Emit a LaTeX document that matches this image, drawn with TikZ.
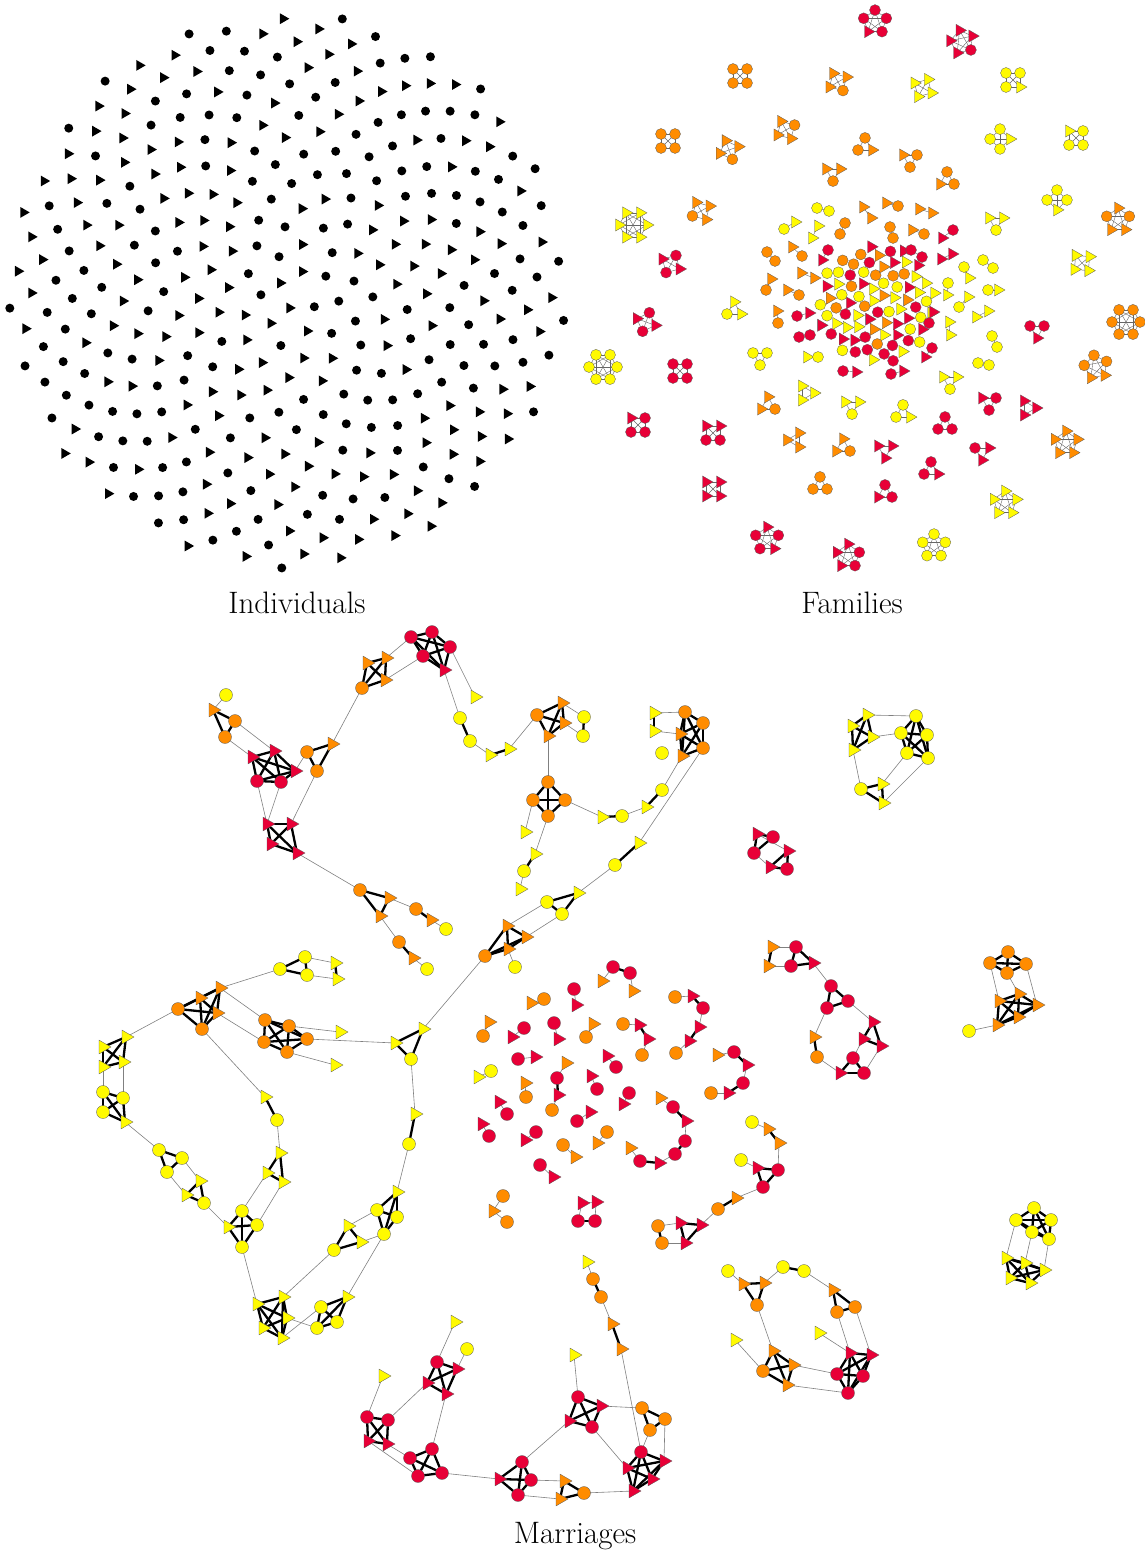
\documentclass[tikz,border=0pt]{standalone}
\usepackage{fontspec}
\usepackage{tikz}
\usetikzlibrary{shapes.geometric, calc}
\definecolor{kr}{RGB}{232, 0, 55}
\definecolor{ko}{RGB}{255, 140, 0}
\definecolor{ky}{RGB}{255, 250, 0}
\pgfdeclarelayer{bg}
\pgfsetlayers{bg,main}

\newcommand\clique[1]{%
  \foreach \cu [count=\i] in {#1}{\foreach \cv [count=\j] in {#1}{%
    \ifnum\j>\i \draw[tie] (\cu.center) -- (\cv.center);\fi}}}

\newcommand\famgrp[5]{%
  \foreach \s [count=\k] in {#4} {\xdef\famn{\k}}
  \pgfmathsetmacro\famr{7/sin(180/\famn)}
  \foreach \s [count=\k] in {#4} {
    \pgfmathsetmacro\ang{#5+360*\k/\famn}
    \def\famc{c}
    \ifx\s\famc \node[fcirc=#3] (fn\k) at ($(#1,#2)+(\ang:\famr pt)$) {};
    \else \node[ftri=#3] (fn\k) at ($(#1,#2)+(\ang:\famr pt)$) {};\fi
  }
  \begin{pgfonlayer}{bg}
    \foreach \i in {1,...,\famn}{\foreach \j in {1,...,\famn}{%
      \ifnum\j>\i \draw[fline] (fn\i.center) -- (fn\j.center);\fi}}
  \end{pgfonlayer}
}

\newcommand\famduo[7]{%
  \def\famc{c}\def\sa{#2}\def\sb{#5}
  \ifx\sa\famc \node[fcirc=#1] (fd1) at (#3,#4) {};\else \node[ftri=#1] (fd1) at (#3,#4) {};\fi
  \ifx\sb\famc \node[fcirc=#1] (fd2) at (#6,#7) {};\else \node[ftri=#1] (fd2) at (#6,#7) {};\fi
  \begin{pgfonlayer}{bg}\draw[fline] (fd1.center) -- (fd2.center);\end{pgfonlayer}
}

\begin{document}
\begin{tikzpicture}[x=1pt, y=-1pt,
    icirc/.style={circle, fill=black, minimum size=9pt, inner sep=0pt},
    itri/.style={regular polygon, regular polygon sides=3, shape border rotate=-90,
      fill=black, minimum size=12.5pt, inner sep=0pt},
    fcirc/.style={circle, draw=gray!70!black, line width=0.3pt, fill=#1, minimum size=11pt, inner sep=0pt},
    ftri/.style={regular polygon, regular polygon sides=3, shape border rotate=-90,
      draw=gray!70!black, line width=0.3pt, fill=#1, minimum size=14pt, inner sep=0pt},
    mcirc/.style={circle, draw=gray!70!black, line width=0.3pt, fill=#1, minimum size=13pt, inner sep=0pt},
    mtri/.style={regular polygon, regular polygon sides=3, shape border rotate=-90,
      draw=gray!70!black, line width=0.3pt, fill=#1, minimum size=16pt, inner sep=0pt},
    tie/.style={line width=2.3pt, black},
    link/.style={line width=0.6pt, gray},
    fline/.style={line width=0.4pt, gray!80!black},
    caption/.style={font=\fontsize{31}{36}\selectfont}]

\useasboundingbox (0,0) rectangle (1144,1558);

\pgfmathsetseed{11}
\foreach \i in {1,...,360}{
  \pgfmathsetmacro\rr{279*sqrt((\i-0.5)/360)}
  \pgfmathsetmacro\aa{360*(\i*0.381966-floor(\i*0.381966))}
  \pgfmathrandominteger{\sh}{0}{1}
  \ifnum\sh=0 \node[icirc] (ind\i) at ($(288,290)+(\aa:\rr pt)$) {};
  \else \node[itri] (ind\i) at ($(288,290)+(\aa:\rr pt)$) {};\fi
}
\node[caption] (indname) at (297,603) {Individuals};

\pgfmathdeclarerandomlist{famcol}{{kr}{ko}{ky}}
\foreach \i in {1,...,80}{
  \pgfmathsetmacro\rr{60*sqrt((\i-0.5)/80)}
  \pgfmathsetmacro\aa{360*(\i*0.381966-floor(\i*0.381966))}
  \pgfmathrandomitem{\col}{famcol}
  \pgfmathrandominteger{\sh}{0}{1}
  \ifnum\sh=0 \node[fcirc=\col] (core\i) at ($(877,304)+(\aa:\rr pt)$) {};
  \else \node[ftri=\col] (core\i) at ($(877,304)+(\aa:\rr pt)$) {};\fi
}

\famduo{ky}{c}{817}{208}{c}{829}{211}
\famduo{ko}{t}{863}{207}{t}{871}{218}
\famduo{ko}{t}{886}{203}{c}{898}{206}
\famduo{ko}{t}{919}{209}{t}{932}{213}
\famduo{ky}{c}{784}{229}{t}{795}{222}
\famduo{ky}{t}{818}{226}{t}{812}{238}
\famduo{ko}{c}{845}{223}{c}{840}{234}
\famduo{ko}{c}{890}{227}{c}{893}{238}
\famduo{ko}{t}{912}{230}{c}{924}{234}
\famduo{kr}{t}{942}{238}{c}{953}{230}
\famduo{kr}{c}{828}{250}{t}{822}{260}
\famduo{ko}{t}{792}{247}{c}{802}{256}
\famduo{kr}{c}{911}{250}{c}{922}{257}
\famduo{kr}{t}{941}{259}{t}{952}{254}
\famduo{ko}{c}{767}{252}{c}{775}{261}
\famduo{ky}{c}{983}{260}{c}{993}{268}
\famduo{ky}{c}{964}{267}{t}{969}{278}
\famduo{ko}{t}{801}{273}{t}{814}{278}
\famduo{ko}{t}{771}{279}{c}{766}{290}
\famduo{ko}{t}{787}{290}{c}{799}{295}
\famduo{ky}{c}{948}{283}{t}{947}{295}
\famduo{ky}{c}{988}{290}{t}{998}{290}
\famduo{ky}{t}{968}{297}{c}{959}{307}
\famduo{ko}{t}{777}{311}{c}{778}{323}
\famduo{kr}{c}{797}{316}{t}{809}{313}
\famduo{ky}{t}{976}{317}{t}{988}{311}
\famduo{kr}{t}{933}{312}{c}{929}{323}
\famduo{kr}{c}{799}{337}{c}{810}{335}
\famduo{ky}{t}{949}{322}{t}{950}{335}
\famduo{ky}{c}{992}{336}{c}{997}{347}
\famduo{ky}{t}{807}{357}{c}{818}{357}
\famduo{kr}{c}{843}{371}{t}{856}{372}
\famduo{kr}{c}{891}{374}{t}{903}{371}
\famduo{kr}{t}{925}{357}{c}{932}{348}
\famduo{ky}{c}{978}{363}{c}{989}{365}

\famgrp{875}{22}{kr}{c,c,t,c,c}{18}
\famgrp{962}{42}{kr}{t,t,t,c,t}{30}
\famgrp{740}{76}{ko}{c,c,c,c}{45}
\famgrp{838}{82}{ko}{t,t,c,t}{30}
\famgrp{923}{88}{ky}{t,t,t,t}{60}
\famgrp{1013}{80}{ky}{c,c,t,c}{45}
\famgrp{668}{141}{ko}{c,c,c,c}{45}
\famgrp{729}{150}{ko}{t,t,c,t}{20}
\famgrp{786}{130}{ko}{t,t,t,c}{30}
\famgrp{865}{146}{ko}{c,t,c}{90}
\famgrp{910}{159}{ko}{c,c,t}{150}
\famgrp{1000}{139}{ky}{c,c,c,t}{0}
\famgrp{1076}{138}{ky}{t,c,c,c}{45}
\famgrp{833}{173}{ko}{t,c,t}{30}
\famgrp{947}{180}{ko}{t,c,c}{90}
\famgrp{1057}{200}{ky}{c,c,t,c}{0}
\famgrp{633}{225}{ky}{t,t,t,t,t,t}{0}
\famgrp{701}{211}{ko}{t,c,t,t}{30}
\famgrp{1118}{220}{ko}{c,t,t,c,t}{90}
\famgrp{996}{222}{ky}{t,c,t}{30}
\famgrp{671}{264}{kr}{t,c,t,c}{60}
\famgrp{1082}{263}{ky}{t,t,t,t}{40}
\famgrp{646}{322}{kr}{t,c,t,c}{70}
\famgrp{603}{367}{ky}{c,c,c,c,c,c}{0}
\famgrp{680}{371}{kr}{c,c,c,c}{45}
\famgrp{734}{310}{ky}{c,t,t}{90}
\famgrp{760}{357}{ky}{c,c,c}{30}
\famgrp{1037}{330}{kr}{t,c,c}{150}
\famgrp{1126}{322}{ko}{c,c,c,c,c,c}{0}
\famgrp{1096}{367}{ko}{c,t,t,c,c}{100}
\famgrp{768}{405}{ko}{t,c,t}{90}
\famgrp{806}{393}{ky}{t,t,t}{0}
\famgrp{638}{425}{kr}{t,c,c,c}{45}
\famgrp{713}{433}{kr}{t,c,c,t}{45}
\famgrp{852}{406}{ky}{c,t,t}{150}
\famgrp{903}{413}{ky}{c,t,c}{90}
\famgrp{950}{381}{ky}{t,c,t}{30}
\famgrp{989}{402}{kr}{c,c,t}{150}
\famgrp{1028}{408}{kr}{t,t,t}{0}
\famgrp{945}{425}{kr}{c,c,c}{90}
\famgrp{795}{440}{ko}{t,t,t}{60}
\famgrp{843}{447}{ko}{t,c,t}{90}
\famgrp{885}{450}{kr}{t,t,t}{30}
\famgrp{931}{470}{kr}{c,t,c}{90}
\famgrp{982}{452}{kr}{t,t,c}{150}
\famgrp{1066}{443}{ko}{t,t,t,t,t}{90}
\famgrp{713}{489}{kr}{t,t,t,t}{45}
\famgrp{820}{485}{ko}{c,c,c}{90}
\famgrp{885}{493}{kr}{t,c,c}{90}
\famgrp{1005}{503}{ky}{t,t,t,t,t}{90}
\famgrp{767}{539}{kr}{c,c,t,c,t}{90}
\famgrp{848}{556}{kr}{t,t,c,c,t}{90}
\famgrp{934}{546}{ky}{c,c,c,c,c}{90}
\node[caption] (famname) at (852,603) {Families};

\node[mcirc=ky] (a1) at (226,695) {};
\node[mtri=ko] (a2) at (213,710) {};
\node[mcirc=ko] (a3) at (235,721) {};
\node[mcirc=ko] (a4) at (225,737) {};
\node[mtri=kr] (b1) at (252,757) {};
\node[mtri=kr] (b2) at (274,751) {};
\node[mtri=kr] (b3) at (295,771) {};
\node[mcirc=kr] (b4) at (257,781) {};
\node[mcirc=kr] (b5) at (281,782) {};
\node[mcirc=ko] (c1) at (307,752) {};
\node[mtri=ko] (c2) at (332,744) {};
\node[mcirc=ko] (c3) at (317,771) {};
\node[mtri=kr] (d1) at (267,824) {};
\node[mtri=kr] (d2) at (291,824) {};
\node[mtri=kr] (d3) at (271,844) {};
\node[mtri=kr] (d4) at (297,853) {};
\node[mtri=ko] (e1) at (367,663) {};
\node[mtri=ko] (e2) at (386,658) {};
\node[mtri=ko] (e3) at (385,680) {};
\node[mcirc=ko] (e4) at (362,688) {};
\node[mcirc=kr] (f1) at (411,637) {};
\node[mcirc=kr] (f2) at (432,632) {};
\node[mcirc=kr] (f3) at (450,647) {};
\node[mcirc=kr] (f4) at (423,656) {};
\node[mtri=kr] (f5) at (444,670) {};
\node[mtri=ky] (h1) at (475,697) {};
\node[mcirc=ky] (h2) at (460,718) {};
\node[mcirc=ky] (h3) at (470,741) {};
\node[mtri=ky] (h4) at (490,755) {};
\node[mtri=ky] (h5) at (509,749) {};
\node[mcirc=ko] (i1) at (537,715) {};
\node[mtri=ko] (i2) at (562,703) {};
\node[mtri=ko] (i3) at (564,723) {};
\node[mtri=ko] (i4) at (548,736) {};
\node[mcirc=ky] (j1) at (584,717) {};
\node[mcirc=ky] (j2) at (583,736) {};
\node[mcirc=ko] (k1) at (548,782) {};
\node[mcirc=ko] (k2) at (533,800) {};
\node[mcirc=ko] (k3) at (565,800) {};
\node[mcirc=ko] (k4) at (548,816) {};
\node[mtri=ky] (l1) at (525,832) {};
\node[mtri=ky] (l2) at (535,854) {};
\node[mcirc=ky] (l3) at (524,871) {};
\node[mtri=ky] (l4) at (520,889) {};
\node[mtri=ky] (n1) at (602,817) {};
\node[mcirc=ky] (n2) at (622,816) {};
\node[mtri=ky] (n3) at (646,807) {};
\node[mcirc=ky] (n4) at (662,790) {};
\node[mcirc=ko] (o1) at (685,712) {};
\node[mcirc=ko] (o2) at (703,723) {};
\node[mcirc=ko] (o3) at (703,748) {};
\node[mtri=ko] (o4) at (680,734) {};
\node[mtri=ko] (o5) at (682,756) {};
\node[mtri=ky] (o6) at (654,713) {};
\node[mtri=ky] (o7) at (654,731) {};
\node[mcirc=ky] (o8) at (662,753) {};
\node[mtri=ky] (p1) at (639,843) {};
\node[mcirc=ky] (p2) at (615,865) {};
\node[mcirc=ky] (q1) at (547,902) {};
\node[mtri=ky] (q2) at (578,893) {};
\node[mcirc=ky] (q3) at (562,914) {};
\node[mtri=ko] (s1) at (507,926) {};
\node[mtri=ko] (s2) at (526,937) {};
\node[mtri=ko] (s3) at (508,949) {};
\node[mcirc=ko] (s4) at (485,956) {};
\node[mcirc=ky] (s5) at (515,967) {};
\node[mcirc=ko] (g1) at (360,890) {};
\node[mtri=ko] (g2) at (389,898) {};
\node[mtri=ko] (g3) at (380,916) {};
\node[mcirc=ko] (g4) at (416,909) {};
\node[mtri=ko] (g5) at (431,920) {};
\node[mcirc=ky] (g6) at (446,929) {};
\node[mcirc=ko] (g7) at (399,942) {};
\node[mtri=ko] (g8) at (413,958) {};
\node[mcirc=ky] (g9) at (427,969) {};
\node[mcirc=ky] (t1) at (280,969) {};
\node[mcirc=ky] (t2) at (305,957) {};
\node[mcirc=ky] (t3) at (307,975) {};
\node[mtri=ky] (t4) at (335,963) {};
\node[mtri=ky] (t5) at (337,979) {};
\node[mcirc=ko] (u1) at (178,1009) {};
\node[mtri=ko] (u2) at (200,998) {};
\node[mtri=ko] (u3) at (220,988) {};
\node[mtri=ko] (u4) at (217,1013) {};
\node[mcirc=ko] (u5) at (202,1029) {};
\node[mcirc=ko] (v1) at (265,1020) {};
\node[mcirc=ko] (v2) at (289,1026) {};
\node[mcirc=ko] (v3) at (264,1042) {};
\node[mcirc=ko] (v4) at (287,1052) {};
\node[mcirc=ko] (v5) at (307,1039) {};
\node[mtri=ky] (v6) at (340,1032) {};
\node[mtri=ky] (v7) at (335,1065) {};
\node[mtri=ky] (w1) at (395,1043) {};
\node[mtri=ky] (w2) at (423,1029) {};
\node[mcirc=ky] (w3) at (411,1059) {};
\node[mtri=ky] (w4) at (415,1114) {};
\node[mcirc=ky] (w5) at (409,1144) {};
\node[mtri=ky] (x1) at (103,1047) {};
\node[mtri=ky] (x2) at (126,1037) {};
\node[mtri=ky] (x3) at (103,1067) {};
\node[mtri=ky] (x4) at (123,1062) {};
\node[mcirc=ky] (x5) at (103,1092) {};
\node[mcirc=ky] (x6) at (123,1098) {};
\node[mcirc=ky] (x7) at (103,1112) {};
\node[mtri=ky] (x8) at (125,1122) {};
\node[mcirc=ky] (xa) at (159,1150) {};
\node[mcirc=ky] (xb) at (182,1158) {};
\node[mcirc=ky] (xc) at (167,1172) {};
\node[mtri=ky] (xd) at (200,1181) {};
\node[mtri=ky] (xe) at (186,1195) {};
\node[mcirc=ky] (xf) at (204,1203) {};
\node[mtri=ky] (y1) at (265,1097) {};
\node[mcirc=ky] (y2) at (277,1120) {};
\node[mtri=ky] (y3) at (280,1153) {};
\node[mtri=ky] (y4) at (267,1173) {};
\node[mtri=ky] (y5) at (283,1182) {};
\node[mtri=ky] (ya) at (228,1227) {};
\node[mcirc=ky] (yb) at (242,1211) {};
\node[mcirc=ky] (yc) at (257,1225) {};
\node[mcirc=ky] (yd) at (242,1247) {};
\node[mtri=ky] (z1) at (397,1192) {};
\node[mcirc=ky] (z2) at (377,1210) {};
\node[mcirc=ky] (z3) at (397,1217) {};
\node[mcirc=ky] (z4) at (384,1234) {};
\node[mtri=ky] (z5) at (348,1226) {};
\node[mtri=ky] (z6) at (361,1242) {};
\node[mcirc=ky] (z7) at (334,1250) {};
\node[mtri=ky] (za) at (257,1304) {};
\node[mtri=ky] (zb) at (283,1297) {};
\node[mtri=ky] (zc) at (287,1318) {};
\node[mtri=ky] (zd) at (263,1328) {};
\node[mtri=ky] (ze) at (282,1338) {};
\node[mtri=ky] (zf) at (347,1297) {};
\node[mcirc=ky] (zg) at (321,1307) {};
\node[mcirc=ky] (zh) at (337,1322) {};
\node[mcirc=ky] (zi) at (317,1328) {};
\node[mtri=ky] (ra) at (383,1376) {};
\node[mcirc=kr] (rb) at (367,1417) {};
\node[mcirc=kr] (rc) at (388,1420) {};
\node[mtri=kr] (rd) at (368,1441) {};
\node[mtri=kr] (re) at (387,1444) {};
\node[mcirc=kr] (sa) at (437,1362) {};
\node[mtri=kr] (sb) at (457,1369) {};
\node[mtri=kr] (sc) at (427,1383) {};
\node[mtri=kr] (sd) at (446,1394) {};
\node[mtri=ky] (se) at (455,1322) {};
\node[mcirc=ky] (sf) at (467,1349) {};
\node[mcirc=kr] (ta) at (410,1458) {};
\node[mcirc=kr] (tb) at (432,1449) {};
\node[mcirc=kr] (tc) at (418,1476) {};
\node[mcirc=kr] (td) at (442,1473) {};
\node[mtri=kr] (ua) at (499,1479) {};
\node[mcirc=kr] (ub) at (522,1462) {};
\node[mcirc=kr] (uc) at (531,1480) {};
\node[mcirc=kr] (ud) at (518,1495) {};
\node[mtri=ko] (wa) at (564,1481) {};
\node[mtri=ko] (wb) at (560,1499) {};
\node[mcirc=ko] (wc) at (584,1493) {};
\node[mcirc=kr] (va) at (578,1397) {};
\node[mtri=kr] (vb) at (601,1406) {};
\node[mtri=kr] (vc) at (569,1421) {};
\node[mcirc=kr] (vd) at (592,1427) {};
\node[mtri=ky] (ve) at (574,1355) {};
\node[mcirc=ko] (pa) at (642,1408) {};
\node[mcirc=ko] (pb) at (665,1419) {};
\node[mcirc=ko] (pc) at (650,1430) {};
\node[mcirc=kr] (qa) at (641,1452) {};
\node[mtri=kr] (qb) at (627,1468) {};
\node[mtri=kr] (qc) at (664,1461) {};
\node[mtri=kr] (qd) at (652,1479) {};
\node[mtri=kr] (qe) at (633,1491) {};
\node[mtri=ky] (ka) at (587,1262) {};
\node[mcirc=ko] (kb) at (593,1279) {};
\node[mcirc=ko] (kc) at (601,1297) {};
\node[mtri=ko] (kd) at (612,1324) {};
\node[mtri=ko] (ke) at (621,1349) {};
\node[mtri=ko] (sp1) at (660,1098) {};
\node[mcirc=kr] (sp2) at (673,1107) {};
\node[mtri=kr] (sp3) at (686,1121) {};
\node[mcirc=kr] (sp4) at (685,1141) {};
\node[mcirc=kr] (sp5) at (675,1154) {};
\node[mtri=kr] (sp6) at (659,1163) {};
\node[mcirc=kr] (sp7) at (640,1161) {};
\node[mtri=ko] (sp8) at (630,1148) {};
\node[mcirc=ky] (la) at (752,1122) {};
\node[mtri=ko] (lb) at (768,1129) {};
\node[mtri=ko] (lc) at (779,1143) {};
\node[mcirc=kr] (ld) at (778,1170) {};
\node[mtri=kr] (le) at (757,1168) {};
\node[mcirc=ky] (lf) at (741,1160) {};
\node[mcirc=kr] (lg) at (763,1187) {};
\node[mtri=ko] (lh) at (736,1198) {};
\node[mcirc=ko] (li) at (718,1209) {};
\node[mcirc=ko] (lj) at (658,1226) {};
\node[mcirc=ko] (lk) at (662,1243) {};
\node[mtri=kr] (ll) at (680,1223) {};
\node[mtri=kr] (lm) at (701,1225) {};
\node[mtri=kr] (ln) at (685,1243) {};
\node[mcirc=ky] (na) at (728,1271) {};
\node[mtri=ko] (nb) at (743,1284) {};
\node[mtri=ko] (nc) at (764,1283) {};
\node[mcirc=ko] (nd) at (757,1305) {};
\node[mcirc=ky] (ne) at (783,1267) {};
\node[mcirc=ky] (nf) at (804,1271) {};
\node[mtri=ko] (ng) at (833,1290) {};
\node[mcirc=ko] (nh) at (837,1312) {};
\node[mcirc=ko] (ni) at (855,1307) {};
\node[mtri=ky] (nj) at (735,1340) {};
\node[mtri=ky] (nk) at (819,1333) {};
\node[mtri=ko] (oa) at (773,1351) {};
\node[mcirc=ko] (ob) at (763,1371) {};
\node[mtri=ko] (oc) at (793,1365) {};
\node[mtri=ko] (od) at (787,1385) {};
\node[mtri=kr] (ha) at (850,1353) {};
\node[mtri=kr] (hb) at (871,1355) {};
\node[mcirc=kr] (hc) at (837,1374) {};
\node[mcirc=kr] (hd) at (863,1376) {};
\node[mcirc=kr] (he) at (848,1393) {};
\node[mtri=ky] (ga) at (867,715) {};
\node[mtri=ky] (gb) at (852,726) {};
\node[mtri=ky] (gc) at (872,737) {};
\node[mtri=ky] (gd) at (853,750) {};
\node[mcirc=ky] (ge) at (916,716) {};
\node[mcirc=ky] (gf) at (901,733) {};
\node[mcirc=ky] (gg) at (927,735) {};
\node[mcirc=ky] (gh) at (907,753) {};
\node[mcirc=ky] (gi) at (928,758) {};
\node[mcirc=ky] (gj) at (861,789) {};
\node[mtri=ky] (gk) at (882,784) {};
\node[mtri=ky] (gl) at (883,803) {};
\node[mtri=kr] (ea) at (757,834) {};
\node[mcirc=kr] (eb) at (773,837) {};
\node[mcirc=kr] (ec) at (754,853) {};
\node[mtri=kr] (ed) at (788,851) {};
\node[mtri=kr] (ee) at (770,867) {};
\node[mcirc=kr] (ef) at (787,869) {};
\node[mtri=ko] (ca) at (772,947) {};
\node[mtri=ko] (cb) at (768,966) {};
\node[mcirc=kr] (cc) at (796,947) {};
\node[mcirc=kr] (cd) at (791,966) {};
\node[mtri=kr] (ce) at (813,963) {};
\node[mcirc=kr] (cf) at (831,986) {};
\node[mcirc=kr] (cg) at (848,1001) {};
\node[mcirc=kr] (ch) at (827,1008) {};
\node[mtri=kr] (ci) at (873,1022) {};
\node[mtri=kr] (cj) at (863,1039) {};
\node[mtri=kr] (ck) at (881,1046) {};
\node[mtri=ko] (cl) at (814,1037) {};
\node[mcirc=ko] (cm) at (817,1057) {};
\node[mcirc=kr] (cn) at (853,1058) {};
\node[mtri=kr] (cp) at (840,1073) {};
\node[mcirc=kr] (co) at (864,1073) {};
\node[mcirc=ko] (da) at (1008,952) {};
\node[mcirc=ko] (db) at (990,963) {};
\node[mcirc=ko] (dc) at (1026,964) {};
\node[mcirc=ko] (dd) at (1007,973) {};
\node[mtri=ko] (de) at (999,1001) {};
\node[mtri=ko] (df) at (1019,994) {};
\node[mtri=ko] (dg) at (1037,1005) {};
\node[mtri=ko] (dh) at (1018,1017) {};
\node[mtri=ko] (di) at (997,1025) {};
\node[mcirc=ky] (dj) at (969,1031) {};
\node[mcirc=ky] (ja) at (1034,1208) {};
\node[mcirc=ky] (jb) at (1016,1220) {};
\node[mcirc=ky] (jc) at (1051,1220) {};
\node[mcirc=ky] (jd) at (1032,1232) {};
\node[mcirc=ky] (je) at (1049,1239) {};
\node[mtri=ky] (jf) at (1006,1258) {};
\node[mtri=ky] (jg) at (1025,1263) {};
\node[mtri=ky] (jh) at (1044,1270) {};
\node[mtri=ky] (ji) at (1010,1278) {};
\node[mtri=ky] (jj) at (1030,1283) {};
\node[mtri=ko] (ba1) at (602,981) {};
\node[mcirc=kr] (ba2) at (613,967) {};
\node[mcirc=kr] (ba3) at (630,973) {};
\node[mtri=ko] (ba4) at (633,991) {};
\node[mtri=ko] (bb1) at (531,1003) {};
\node[mcirc=ko] (bb2) at (544,999) {};
\node[mcirc=kr] (bc1) at (574,989) {};
\node[mtri=kr] (bc2) at (576,1005) {};
\node[mcirc=ko] (bd1) at (675,997) {};
\node[mtri=kr] (bd2) at (692,996) {};
\node[mcirc=kr] (bd3) at (703,1008) {};
\node[mtri=kr] (bd4) at (699,1027) {};
\node[mtri=kr] (bd5) at (689,1041) {};
\node[mcirc=ko] (bd6) at (676,1053) {};
\node[mtri=ko] (be1) at (489,1022) {};
\node[mcirc=ko] (be2) at (483,1036) {};
\node[mcirc=kr] (bf1) at (524,1028) {};
\node[mtri=kr] (bf2) at (512,1037) {};
\node[mcirc=kr] (bg1) at (554,1023) {};
\node[mtri=kr] (bg2) at (558,1039) {};
\node[mtri=ko] (bh1) at (593,1024) {};
\node[mcirc=ko] (bh2) at (586,1037) {};
\node[mcirc=ko] (bi1) at (623,1024) {};
\node[mtri=kr] (bi2) at (639,1025) {};
\node[mtri=kr] (bi3) at (648,1039) {};
\node[mcirc=ko] (bi4) at (642,1055) {};
\node[mtri=ko] (bj1) at (717,1055) {};
\node[mcirc=kr] (bj2) at (734,1052) {};
\node[mtri=kr] (bj3) at (747,1065) {};
\node[mcirc=kr] (bj4) at (743,1083) {};
\node[mtri=kr] (bj5) at (728,1093) {};
\node[mcirc=ko] (bj6) at (711,1093) {};
\node[mcirc=kr] (bk1) at (518,1059) {};
\node[mtri=kr] (bk2) at (535,1057) {};
\node[mtri=ko] (bl1) at (566,1063) {};
\node[mcirc=kr] (bl2) at (557,1078) {};
\node[mtri=kr] (bl3) at (558,1095) {};
\node[mcirc=ko] (bl4) at (552,1110) {};
\node[mtri=kr] (bm1) at (607,1056) {};
\node[mcirc=kr] (bm2) at (616,1067) {};
\node[mtri=ky] (bn1) at (478,1077) {};
\node[mcirc=ky] (bn2) at (491,1071) {};
\node[mtri=ko] (bo1) at (525,1083) {};
\node[mcirc=ko] (bo2) at (526,1097) {};
\node[mtri=kr] (bp1) at (591,1076) {};
\node[mcirc=kr] (bp2) at (597,1089) {};
\node[mcirc=kr] (bq1) at (629,1093) {};
\node[mtri=kr] (bq2) at (623,1104) {};
\node[mtri=kr] (br1) at (499,1102) {};
\node[mcirc=kr] (br2) at (507,1114) {};
\node[mcirc=kr] (bs1) at (577,1121) {};
\node[mtri=kr] (bs2) at (590,1112) {};
\node[mcirc=ko] (bt1) at (607,1132) {};
\node[mtri=ko] (bt2) at (597,1143) {};
\node[mtri=kr] (bu1) at (482,1124) {};
\node[mcirc=kr] (bu2) at (489,1136) {};
\node[mcirc=kr] (bv1) at (536,1132) {};
\node[mtri=kr] (bv2) at (525,1140) {};
\node[mcirc=ko] (bw1) at (563,1145) {};
\node[mtri=ko] (bw2) at (575,1157) {};
\node[mcirc=kr] (bx1) at (540,1165) {};
\node[mtri=kr] (bx2) at (553,1177) {};
\node[mcirc=ko] (by1) at (503,1196) {};
\node[mtri=ko] (by2) at (493,1211) {};
\node[mcirc=ko] (by3) at (507,1222) {};
\node[mtri=kr] (bz1) at (582,1203) {};
\node[mtri=kr] (bz2) at (596,1202) {};
\node[mcirc=kr] (bz3) at (578,1221) {};
\node[mcirc=kr] (bz4) at (595,1221) {};

\begin{pgfonlayer}{bg}
  \foreach \p/\q in {a1/a2, a3/b2, a4/b1, b3/c1, b4/d1, b5/d1, c2/e4, c3/d2, d4/g1, e2/f1, e3/f4,
      f3/h1, f5/h2, h3/h4, h5/i1, i2/j1, i3/j2, i4/k1, k2/l1, k4/l2, l3/l4, k3/n1, n2/n3, n4/o5,
      o6/o1, o7/o4, o3/p1, p2/q2, q1/s1, q3/s2, s3/s5, s4/w2, g2/g4, g5/g6, g3/g7, g8/g9,
      t2/t4, t3/t5, t1/u3, u3/v1, u4/v3, u1/x2, u5/y1, v2/v6, v4/v7, v5/w1, w3/w4, w5/z1,
      x3/x5, x4/x6, x8/xa, xb/xd, xc/xe, xf/ya, y2/y3, y4/yb, y5/yc, yd/za, z2/z5, z4/z6, z4/zf,
      z7/zb, zc/zi, ze/zg, ra/rb, rc/sc, se/sa, sf/sb, sd/tb, re/ta, rd/tc, td/ua, ub/vc, uc/wa,
      ud/wb, wc/qe, ve/va, vb/pa, vd/qb, pc/qa, pb/qc, ka/kb, kc/kd, ke/qa,
      sp1/sp2, sp3/sp4, sp5/sp6, sp7/sp8, la/lb, lc/ld, lf/le, lg/lh, li/lm, lj/ll, lk/ln,
      na/nb, nc/ne, nf/ng, nd/oa, nj/ob, oc/hc, od/he, nh/ha, ni/hb, nk/ha,
      ga/ge, gc/gf, gd/gj, gh/gk, gi/gl, ea/ed, ec/ee, ca/cc, cb/cd, ce/cf, cg/ci, ch/cl,
      cj/cn, ck/co, cm/cp, db/de, dd/df, dc/dg, dj/di, jb/jf, jd/jg, je/jh,
      ba1/ba2, ba3/ba4, bb1/bb2, bc1/bc2, bd1/bd2, bd3/bd4, bd5/bd6, be1/be2, bf1/bf2, bg1/bg2,
      bh1/bh2, bi1/bi2, bi3/bi4, bj1/bj2, bj3/bj4, bj5/bj6, bk1/bk2, bl1/bl2, bl3/bl4, bm1/bm2,
      bn1/bn2, bo1/bo2, bp1/bp2, bq1/bq2, br1/br2, bs1/bs2, bt1/bt2, bu1/bu2, bv1/bv2, bw1/bw2,
      bx1/bx2, by1/by2, by2/by3, bz1/bz2, bz1/bz3, bz2/bz4}
    \draw[link] (\p.center) -- (\q.center);
  \foreach \p/\q in {h2/h3, h4/h5, j1/j2, l2/l3, n1/n2, n3/n4, o6/o7, p1/p2, g4/g5, g7/g8, t4/t5,
      w4/w5, y1/y2, kb/kc, kd/ke, sp2/sp3, sp4/sp5, sp6/sp7, lb/lc, lh/li, lj/lk, ne/nf, ca/cb,
      cl/cm, ba2/ba3, bd2/bd3, bd4/bd5, bi2/bi3, bj2/bj3, bj4/bj5, bl2/bl3, bz3/bz4}
    \draw[tie] (\p.center) -- (\q.center);
  \clique{a2,a3,a4} \clique{b1,b2,b3,b4,b5} \clique{c1,c2,c3} \clique{d1,d2,d3,d4}
  \clique{e1,e2,e3,e4} \clique{f1,f2,f3,f4,f5} \clique{i1,i2,i3,i4} \clique{k1,k2,k3,k4}
  \clique{o1,o2,o3,o4,o5} \clique{q1,q2,q3} \clique{s1,s2,s3,s4} \clique{g1,g2,g3}
  \clique{t1,t2,t3} \clique{u1,u2,u3,u4,u5} \clique{v1,v2,v3,v4,v5} \clique{w1,w2,w3}
  \clique{x1,x2,x3,x4} \clique{x5,x6,x7,x8} \clique{xa,xb,xc} \clique{xd,xe,xf}
  \clique{y3,y4,y5} \clique{ya,yb,yc,yd} \clique{z1,z2,z3,z4} \clique{z5,z6,z7}
  \clique{za,zb,zc,zd,ze} \clique{zf,zg,zh,zi} \clique{rb,rc,rd,re} \clique{sa,sb,sc,sd}
  \clique{ta,tb,tc,td} \clique{ua,ub,uc,ud} \clique{wa,wb,wc} \clique{va,vb,vc,vd}
  \clique{pa,pb,pc} \clique{qa,qb,qc,qd,qe} \clique{le,ld,lg} \clique{ll,lm,ln}
  \clique{nb,nc,nd} \clique{ng,nh,ni} \clique{oa,ob,oc,od} \clique{ha,hb,hc,hd,he}
  \clique{ga,gb,gc,gd} \clique{ge,gf,gg,gh,gi} \clique{gj,gk,gl} \clique{ea,eb,ec}
  \clique{ed,ee,ef} \clique{cc,cd,ce} \clique{cf,cg,ch} \clique{ci,cj,ck} \clique{cn,cp,co}
  \clique{da,db,dc,dd} \clique{de,df,dg,dh,di} \clique{ja,jb,jc,jd,je} \clique{jf,jg,jh,ji,jj}
\end{pgfonlayer}
\node[caption] (marname) at (575,1536) {Marriages};

\end{tikzpicture}
\end{document}
